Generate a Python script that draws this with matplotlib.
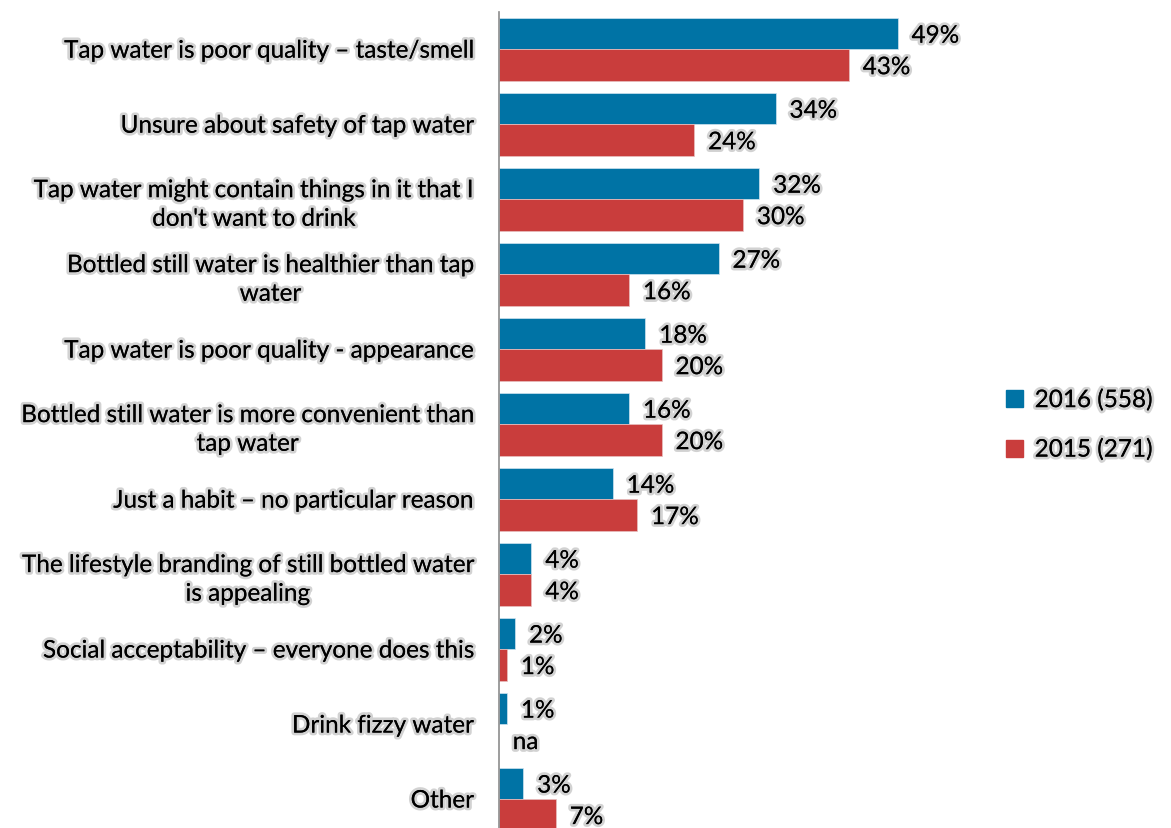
import matplotlib.pyplot as plt
import matplotlib.patheffects as pe
from matplotlib.patches import Patch

categories = [
    "Tap water is poor quality \u2013 taste/smell",
    "Unsure about safety of tap water",
    "Tap water might contain things in it that I\ndon't want to drink",
    "Bottled still water is healthier than tap\nwater",
    "Tap water is poor quality - appearance",
    "Bottled still water is more convenient than\ntap water",
    "Just a habit \u2013 no particular reason",
    "The lifestyle branding of still bottled water\nis appealing",
    "Social acceptability \u2013 everyone does this",
    "Drink fizzy water",
    "Other",
]
vals_2016 = [49, 34, 32, 27, 18, 16, 14, 4, 2, 1, 3]
vals_2015 = [43, 24, 30, 16, 20, 20, 17, 4, 1, None, 7]
series_names = ["2016 (558)", "2015 (271)"]

blue = "#0073A5"
red = "#C93D3C"
font = "Lato"
fs = 17.5
glow = [pe.withStroke(linewidth=4, foreground="#d2d2d2"), pe.Normal()]

fig = plt.figure(figsize=(11.71, 8.29), dpi=100)
ax = fig.add_axes([0.426, -0.0103, 0.417, 0.995])

h = 0.42
pos = list(range(len(categories)))
for i in pos:
    v16 = vals_2016[i]
    v15 = vals_2015[i]
    ax.barh(i - h / 2, v16, height=h, color=blue, edgecolor="#d0e4f0", linewidth=0.5)
    ax.annotate(f"{v16}%", (v16, i - h / 2), xytext=(10, -2), textcoords="offset points",
                ha="left", va="center", fontsize=fs, family=font, path_effects=glow)
    if v15 is None:
        ax.annotate("na", (0, i + h / 2), xytext=(10, -2), textcoords="offset points",
                    ha="left", va="center", fontsize=fs, family=font, path_effects=glow)
    else:
        ax.barh(i + h / 2, v15, height=h, color=red, edgecolor="#e8c0c0", linewidth=0.5)
        ax.annotate(f"{v15}%", (v15, i + h / 2), xytext=(10, -2), textcoords="offset points",
                    ha="left", va="center", fontsize=fs, family=font, path_effects=glow)

ax.set_xlim(0, 60)
ax.set_ylim(len(categories) - 0.5, -0.5)
ax.set_yticks(pos)
ax.set_yticklabels(categories, fontsize=fs, family=font, multialignment="center",
                   linespacing=1.45)
for t in ax.get_yticklabels():
    t.set_path_effects(glow)
ax.tick_params(axis="y", length=0, pad=18)
ax.set_xticks([])
for s in ["top", "right", "bottom"]:
    ax.spines[s].set_visible(False)
ax.spines["left"].set_color("#8c8c8c")
ax.spines["left"].set_linewidth(1.2)

handles = [Patch(color=blue), Patch(color=red)]
leg = fig.legend(handles, series_names, loc="center left", bbox_to_anchor=(0.840, 0.486),
                 frameon=False, prop={"family": font, "size": fs}, handlelength=0.7,
                 handleheight=0.7, handletextpad=0.5, labelspacing=1.15)
for t in leg.get_texts():
    t.set_path_effects(glow)

fig.savefig("out.png", dpi=100)
